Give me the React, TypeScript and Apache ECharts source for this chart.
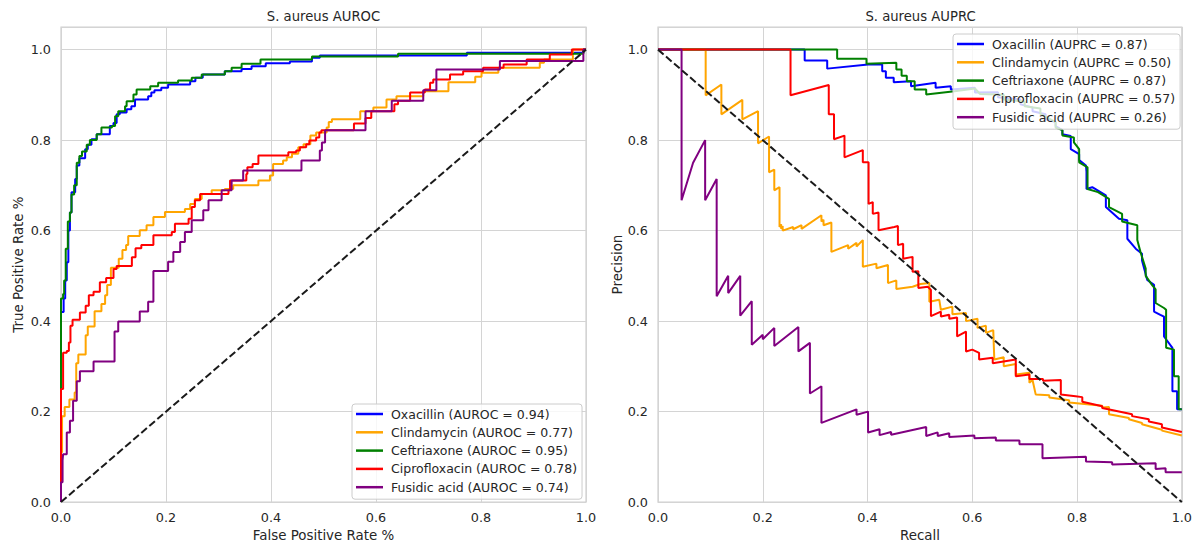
import React, { useEffect, useRef } from 'react';
import * as echarts from 'echarts';

const FONT = '"DejaVu Sans", sans-serif';
const TEXT = '#262626';
const GRID_LINE = '#d4d4d4';
const FRAME = '#cfcfcf';

const drugs = ['Oxacillin', 'Clindamycin', 'Ceftriaxone', 'Ciprofloxacin', 'Fusidic acid'];
const colors = ['#0000ff', '#ffa500', '#008000', '#ff0000', '#800080'];
const aurocScores = [0.94, 0.77, 0.95, 0.78, 0.74];
const auprcScores = [0.87, 0.5, 0.87, 0.57, 0.26];

// ROC curves: [false positive rate, true positive rate], drawn as steps (across, then up)
const rocOxacillin = [
  [0, 0], [0, 0.42], [0.005, 0.45], [0.008, 0.49], [0.011, 0.53], [0.014, 0.6], [0.017, 0.64],
  [0.02, 0.685], [0.027, 0.714], [0.03, 0.744], [0.035, 0.76], [0.046, 0.78], [0.051, 0.79],
  [0.058, 0.802], [0.068, 0.813], [0.093, 0.831], [0.1, 0.838], [0.106, 0.857], [0.112, 0.861],
  [0.125, 0.868], [0.134, 0.875], [0.141, 0.89], [0.166, 0.897], [0.172, 0.905], [0.178, 0.91],
  [0.191, 0.916], [0.204, 0.923], [0.246, 0.93], [0.256, 0.938], [0.27, 0.945], [0.312, 0.952],
  [0.344, 0.957], [0.363, 0.963], [0.39, 0.97], [0.436, 0.974], [0.478, 0.982], [0.493, 0.987],
  [0.773, 0.993], [0.995, 1], [1, 1],
];
const rocClindamycin = [
  [0, 0], [0, 0.11], [0.002, 0.19], [0.007, 0.21], [0.016, 0.227], [0.026, 0.242], [0.029, 0.307],
  [0.033, 0.326], [0.047, 0.369], [0.051, 0.388], [0.064, 0.422], [0.077, 0.438], [0.084, 0.457],
  [0.088, 0.48], [0.095, 0.518], [0.11, 0.538], [0.117, 0.557], [0.124, 0.568], [0.128, 0.588],
  [0.15, 0.601], [0.163, 0.612], [0.176, 0.63], [0.198, 0.641], [0.236, 0.648], [0.246, 0.659],
  [0.255, 0.67], [0.268, 0.681], [0.287, 0.689], [0.312, 0.692], [0.328, 0.7], [0.376, 0.711],
  [0.398, 0.722], [0.404, 0.747], [0.423, 0.755], [0.43, 0.762], [0.44, 0.77], [0.452, 0.784],
  [0.462, 0.791], [0.475, 0.81], [0.486, 0.817], [0.506, 0.828], [0.51, 0.84], [0.516, 0.846],
  [0.57, 0.864], [0.595, 0.872], [0.62, 0.89], [0.639, 0.897], [0.69, 0.908], [0.738, 0.928],
  [0.789, 0.94], [0.801, 0.949], [0.833, 0.96], [0.912, 0.971], [0.92, 0.978], [0.975, 1], [1, 1],
];
const rocCeftriaxone = [
  [0, 0], [0, 0.45], [0.004, 0.46], [0.006, 0.49], [0.009, 0.56], [0.013, 0.62], [0.017, 0.64],
  [0.02, 0.68], [0.025, 0.7], [0.03, 0.75], [0.035, 0.765], [0.04, 0.775], [0.049, 0.79],
  [0.055, 0.8], [0.068, 0.813], [0.077, 0.828], [0.097, 0.831], [0.103, 0.853], [0.109, 0.864],
  [0.122, 0.875], [0.125, 0.886], [0.138, 0.901], [0.144, 0.912], [0.17, 0.919], [0.185, 0.927],
  [0.223, 0.932], [0.249, 0.938], [0.268, 0.945], [0.312, 0.952], [0.325, 0.96], [0.344, 0.969],
  [0.38, 0.978], [0.478, 0.985], [0.642, 0.991], [0.995, 1], [1, 1],
];
const rocCiprofloxacin = [
  [0, 0], [0, 0.25], [0.004, 0.33], [0.011, 0.334], [0.015, 0.353], [0.018, 0.39], [0.022, 0.403],
  [0.036, 0.419], [0.047, 0.434], [0.053, 0.457], [0.062, 0.465], [0.074, 0.486], [0.086, 0.495],
  [0.1, 0.515], [0.106, 0.522], [0.135, 0.541], [0.142, 0.561], [0.153, 0.568], [0.176, 0.59],
  [0.211, 0.597], [0.217, 0.615], [0.243, 0.626], [0.249, 0.652], [0.255, 0.667], [0.265, 0.681],
  [0.319, 0.689], [0.322, 0.711], [0.353, 0.725], [0.355, 0.74], [0.365, 0.747], [0.376, 0.766],
  [0.433, 0.773], [0.448, 0.777], [0.455, 0.784], [0.467, 0.791], [0.473, 0.799], [0.486, 0.806],
  [0.492, 0.817], [0.496, 0.822], [0.558, 0.837], [0.58, 0.849], [0.591, 0.864], [0.635, 0.879],
  [0.642, 0.887], [0.665, 0.905], [0.693, 0.912], [0.703, 0.927], [0.709, 0.934], [0.741, 0.945],
  [0.766, 0.952], [0.804, 0.96], [0.843, 0.967], [0.887, 0.978], [0.931, 0.989], [0.973, 1], [1, 1],
];
const rocFusidicAcid = [
  [0, 0], [0, 0.044], [0.003, 0.092], [0.004, 0.106], [0.011, 0.154], [0.017, 0.18], [0.023, 0.224],
  [0.03, 0.267], [0.036, 0.289], [0.062, 0.311], [0.102, 0.377], [0.109, 0.399], [0.15, 0.421],
  [0.166, 0.443], [0.176, 0.511], [0.204, 0.531], [0.214, 0.553], [0.227, 0.575], [0.236, 0.597],
  [0.249, 0.623], [0.271, 0.645], [0.281, 0.667], [0.306, 0.689], [0.325, 0.711], [0.347, 0.733],
  [0.458, 0.755], [0.493, 0.777], [0.497, 0.795], [0.503, 0.822], [0.58, 0.864], [0.63, 0.887],
  [0.69, 0.91], [0.715, 0.956], [0.836, 0.975], [0.995, 1], [1, 1],
];

// Precision-recall curves: [recall, precision]
const prOxacillin = [
  [0, 1], [0.28, 1], [0.28, 0.976], [0.323, 0.976], [0.323, 0.958], [0.401, 0.967], [0.428, 0.967],
  [0.428, 0.952], [0.435, 0.952], [0.435, 0.938], [0.45, 0.938], [0.45, 0.928], [0.483, 0.93],
  [0.483, 0.919], [0.53, 0.927], [0.53, 0.916], [0.559, 0.919], [0.559, 0.912], [0.605, 0.916],
  [0.605, 0.905], [0.649, 0.906], [0.649, 0.895], [0.692, 0.89], [0.692, 0.879], [0.715, 0.872],
  [0.715, 0.864], [0.74, 0.857], [0.74, 0.846], [0.759, 0.84], [0.759, 0.831], [0.772, 0.822],
  [0.772, 0.813], [0.788, 0.809], [0.788, 0.78], [0.804, 0.769], [0.804, 0.756], [0.817, 0.744],
  [0.818, 0.73], [0.818, 0.692], [0.829, 0.696], [0.855, 0.678], [0.855, 0.652], [0.88, 0.626],
  [0.896, 0.623], [0.896, 0.582], [0.912, 0.56], [0.924, 0.549], [0.924, 0.534], [0.934, 0.491],
  [0.947, 0.48], [0.947, 0.421], [0.959, 0.414], [0.966, 0.41], [0.966, 0.366], [0.982, 0.341],
  [0.982, 0.245], [0.991, 0.245], [0.991, 0.205], [1, 0.205],
];
const prClindamycin = [
  [0, 1], [0.091, 1], [0.091, 0.899], [0.121, 0.923], [0.121, 0.857], [0.161, 0.889], [0.161, 0.846],
  [0.191, 0.864], [0.191, 0.793], [0.212, 0.808], [0.212, 0.729], [0.222, 0.735], [0.222, 0.689],
  [0.232, 0.696], [0.232, 0.608], [0.235, 0.614], [0.235, 0.604], [0.238, 0.61], [0.238, 0.6],
  [0.258, 0.608], [0.258, 0.603], [0.274, 0.612], [0.274, 0.604], [0.312, 0.634], [0.312, 0.62],
  [0.316, 0.624], [0.316, 0.612], [0.331, 0.618], [0.331, 0.553], [0.363, 0.568], [0.363, 0.56],
  [0.379, 0.573], [0.379, 0.565], [0.391, 0.579], [0.391, 0.52], [0.417, 0.527], [0.417, 0.517],
  [0.439, 0.524], [0.439, 0.484], [0.455, 0.49], [0.455, 0.471], [0.486, 0.476], [0.501, 0.482],
  [0.518, 0.484], [0.518, 0.443], [0.537, 0.447], [0.54, 0.425], [0.562, 0.432], [0.562, 0.415],
  [0.588, 0.418], [0.588, 0.4], [0.61, 0.405], [0.61, 0.385], [0.626, 0.39], [0.626, 0.374],
  [0.64, 0.38], [0.642, 0.315], [0.66, 0.32], [0.66, 0.3], [0.683, 0.305], [0.683, 0.282],
  [0.709, 0.286], [0.709, 0.264], [0.715, 0.27], [0.721, 0.238], [0.747, 0.236], [0.747, 0.231],
  [0.785, 0.225], [0.785, 0.22], [0.848, 0.213], [0.848, 0.209], [0.861, 0.21], [0.861, 0.194],
  [0.899, 0.186], [0.899, 0.183], [0.924, 0.175], [0.924, 0.172], [0.962, 0.16], [0.962, 0.158],
  [1, 0.147],
];
const prCeftriaxone = [
  [0, 1], [0.342, 1], [0.342, 0.98], [0.398, 0.98], [0.398, 0.969], [0.455, 0.971], [0.455, 0.956],
  [0.465, 0.956], [0.465, 0.942], [0.475, 0.942], [0.475, 0.93], [0.49, 0.93], [0.49, 0.912],
  [0.512, 0.912], [0.512, 0.901], [0.566, 0.908], [0.605, 0.914], [0.615, 0.902], [0.66, 0.9],
  [0.66, 0.89], [0.7, 0.885], [0.7, 0.875], [0.73, 0.87], [0.73, 0.858], [0.759, 0.84],
  [0.759, 0.828], [0.772, 0.822], [0.772, 0.81], [0.794, 0.806], [0.794, 0.795], [0.804, 0.78],
  [0.804, 0.751], [0.82, 0.74], [0.82, 0.692], [0.84, 0.685], [0.861, 0.67], [0.861, 0.652],
  [0.886, 0.637], [0.886, 0.62], [0.915, 0.612], [0.915, 0.579], [0.921, 0.553], [0.931, 0.516],
  [0.931, 0.5], [0.943, 0.48], [0.95, 0.47], [0.95, 0.44], [0.966, 0.429], [0.97, 0.425],
  [0.97, 0.341], [0.985, 0.337], [0.985, 0.278], [0.994, 0.278], [0.994, 0.205], [1, 0.205],
];
const prCiprofloxacin = [
  [0, 1], [0.253, 1], [0.253, 0.899], [0.326, 0.922], [0.326, 0.857], [0.336, 0.857], [0.336, 0.802],
  [0.356, 0.81], [0.356, 0.762], [0.391, 0.778], [0.391, 0.751], [0.402, 0.751], [0.402, 0.659],
  [0.41, 0.663], [0.41, 0.637], [0.421, 0.64], [0.421, 0.601], [0.451, 0.608], [0.458, 0.61],
  [0.458, 0.568], [0.468, 0.571], [0.468, 0.538], [0.486, 0.542], [0.486, 0.509], [0.497, 0.51],
  [0.497, 0.473], [0.515, 0.476], [0.521, 0.469], [0.521, 0.411], [0.54, 0.421], [0.54, 0.41],
  [0.556, 0.414], [0.556, 0.405], [0.571, 0.408], [0.571, 0.366], [0.588, 0.377], [0.588, 0.333],
  [0.6, 0.337], [0.613, 0.33], [0.613, 0.315], [0.639, 0.319], [0.639, 0.307], [0.683, 0.315],
  [0.683, 0.278], [0.709, 0.282], [0.709, 0.272], [0.735, 0.272], [0.735, 0.268], [0.769, 0.27],
  [0.769, 0.238], [0.797, 0.234], [0.81, 0.232], [0.81, 0.222], [0.848, 0.212], [0.848, 0.208],
  [0.905, 0.194], [0.905, 0.19], [0.937, 0.183], [0.937, 0.178], [0.962, 0.172], [0.962, 0.165],
  [1, 0.155],
];
const prFusidicAcid = [
  [0, 1], [0.045, 1], [0.045, 0.667], [0.067, 0.75], [0.09, 0.8], [0.09, 0.667], [0.112, 0.714],
  [0.112, 0.455], [0.134, 0.5], [0.134, 0.462], [0.157, 0.5], [0.157, 0.412], [0.179, 0.444],
  [0.179, 0.348], [0.2, 0.37], [0.2, 0.36], [0.222, 0.385], [0.222, 0.345], [0.268, 0.387],
  [0.268, 0.333], [0.29, 0.352], [0.29, 0.24], [0.312, 0.256], [0.312, 0.175], [0.379, 0.205],
  [0.379, 0.193], [0.401, 0.2], [0.401, 0.154], [0.423, 0.161], [0.423, 0.148], [0.445, 0.155],
  [0.445, 0.149], [0.512, 0.166], [0.512, 0.146], [0.534, 0.154], [0.534, 0.146], [0.556, 0.152],
  [0.556, 0.144], [0.604, 0.147], [0.604, 0.141], [0.645, 0.143], [0.645, 0.136], [0.69, 0.136],
  [0.69, 0.128], [0.734, 0.128], [0.734, 0.097], [0.817, 0.1], [0.817, 0.09], [0.867, 0.088],
  [0.867, 0.083], [0.95, 0.086], [0.95, 0.073], [0.969, 0.075], [0.969, 0.066], [1, 0.066],
];

const rocCurves = [rocOxacillin, rocClindamycin, rocCeftriaxone, rocCiprofloxacin, rocFusidicAcid];
const prCurves = [prOxacillin, prClindamycin, prCeftriaxone, prCiprofloxacin, prFusidicAcid];
const rocChance = [[0, 0], [1, 1]];
const prChance = [[0, 1], [1, 0]];

const rocNames = drugs.map((d, i) => `${d} (AUROC = ${aurocScores[i].toFixed(2)})`);
const prNames = drugs.map((d, i) => `${d} (AUPRC = ${auprcScores[i].toFixed(2)})`);

const tickLabel = (v: number) => {
  const k = v * 5;
  return Math.abs(k - Math.round(k)) < 1e-6 ? v.toFixed(1) : '';
};

function makeXAxis(gridIndex: number, name: string) {
  return {
    gridIndex,
    type: 'value',
    min: 0,
    max: 1,
    interval: 0.2,
    name,
    nameLocation: 'middle',
    nameGap: 24,
    nameTextStyle: { fontFamily: FONT, fontSize: 13.4, color: TEXT },
    axisLine: { show: false },
    axisTick: { show: false },
    axisLabel: { fontFamily: FONT, fontSize: 12.8, color: TEXT, margin: 9, formatter: tickLabel },
    splitLine: { show: true, lineStyle: { color: GRID_LINE, width: 1 } },
  };
}

function makeYAxis(gridIndex: number, name: string, nameGap: number) {
  return {
    gridIndex,
    type: 'value',
    min: 0,
    max: 1.05,
    interval: 0.2,
    name,
    nameLocation: 'middle',
    nameGap,
    nameTextStyle: { fontFamily: FONT, fontSize: 13.4, color: TEXT },
    axisLine: { show: false },
    axisTick: { show: false },
    axisLabel: { fontFamily: FONT, fontSize: 12.8, color: TEXT, margin: 10, formatter: tickLabel },
    splitLine: { show: true, lineStyle: { color: GRID_LINE, width: 1 } },
  };
}

function makeLegend(names: string[], left: number, top: number) {
  return {
    data: names,
    orient: 'vertical',
    left,
    top,
    icon: 'rect',
    itemWidth: 27,
    itemHeight: 2.5,
    itemGap: 4.3,
    padding: [3, 5, 5, 4],
    backgroundColor: 'rgba(255,255,255,0.8)',
    borderColor: '#cccccc',
    borderWidth: 1,
    borderRadius: 3,
    selectedMode: false,
    textStyle: { fontFamily: FONT, fontSize: 12.5, color: TEXT, lineHeight: 14, padding: [0, 0, 0, 3] },
  };
}

export default function App() {
  const ref = useRef<HTMLDivElement>(null);

  useEffect(() => {
    if (!ref.current) return;
    const chart = echarts.init(ref.current, null, { renderer: 'svg' });

    const curveSeries = (curves: number[][][], names: string[], gridIdx: number, step: boolean) =>
      curves.map((data, i) => ({
        type: 'line',
        name: names[i],
        xAxisIndex: gridIdx,
        yAxisIndex: gridIdx,
        data,
        step: step ? 'end' : false,
        showSymbol: false,
        symbol: 'none',
        clip: false,
        color: colors[i],
        lineStyle: { color: colors[i], width: 2 },
        z: 2 + i * 0.01,
      }));

    const chanceSeries = (data: number[][], gridIdx: number) => ({
      type: 'line',
      name: gridIdx === 0 ? 'roc-chance' : 'pr-chance',
      xAxisIndex: gridIdx,
      yAxisIndex: gridIdx,
      data,
      showSymbol: false,
      symbol: 'none',
      clip: false,
      color: '#1a1a1a',
      lineStyle: { color: '#1a1a1a', width: 2, type: [7.4, 3.2] },
      z: 3,
    });

    const titleText = (text: string, x: number) => ({
      type: 'text',
      x,
      y: 16,
      style: {
        text,
        fill: TEXT,
        font: `13.2px ${FONT}`,
        textAlign: 'center',
        textVerticalAlign: 'middle',
        align: 'center',
        verticalAlign: 'middle',
      },
    });

    chart.setOption({
      animation: false,
      backgroundColor: '#ffffff',
      textStyle: { fontFamily: FONT },
      grid: [
        { left: 61, right: 609, top: 27, bottom: 42, show: true, borderColor: FRAME, borderWidth: 1.2, backgroundColor: 'transparent' },
        { left: 658, right: 12, top: 27, bottom: 42, show: true, borderColor: FRAME, borderWidth: 1.2, backgroundColor: 'transparent' },
      ],
      xAxis: [makeXAxis(0, 'False Positive Rate %'), makeXAxis(1, 'Recall')],
      yAxis: [makeYAxis(0, 'True Positive Rate %', 36), makeYAxis(1, 'Precision', 33)],
      legend: [makeLegend(rocNames, 352, 404), makeLegend(prNames, 953, 34)],
      graphic: [titleText('S. aureus AUROC', 323.5), titleText('S. aureus AUPRC', 920.5)],
      series: [
        ...curveSeries(rocCurves, rocNames, 0, true),
        chanceSeries(rocChance, 0),
        ...curveSeries(prCurves, prNames, 1, false),
        chanceSeries(prChance, 1),
      ],
    });

    return () => chart.dispose();
  }, []);

  return (
    <div
      ref={ref}
      style={{ position: 'fixed', left: 0, top: 0, width: 1195, height: 547, background: '#ffffff' }}
    />
  );
}
